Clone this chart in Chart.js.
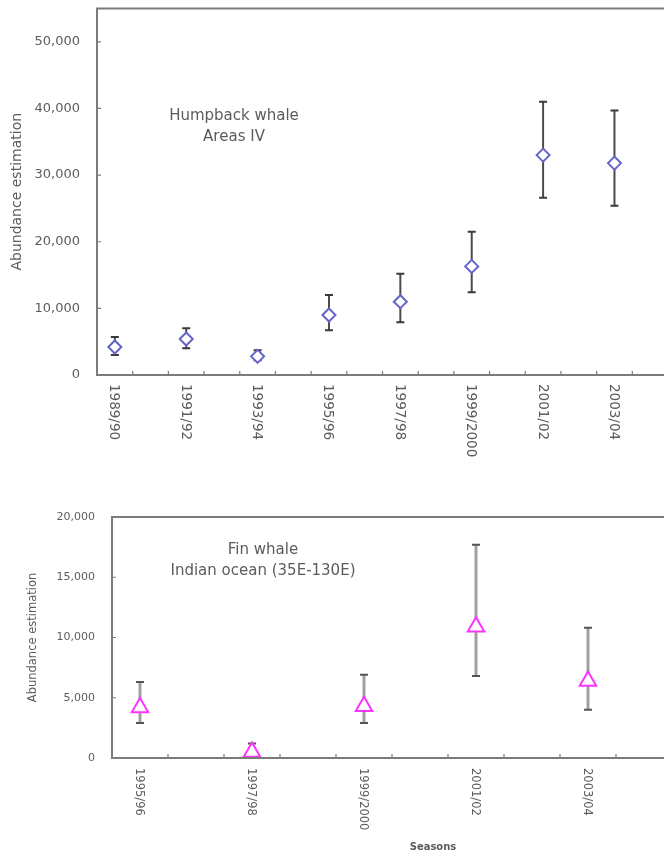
<!DOCTYPE html>
<html lang="en">
<head>
<meta charset="UTF-8">
<title>Whale abundance estimates</title>
<script src="https://cdn.jsdelivr.net/npm/chart.js"></script>
<style>
  html, body { margin: 0; padding: 0; background: #fff; width: 664px; height: 856px; overflow: hidden; }
  canvas { position: absolute; left: 0; }
  #humpChart { top: 0; }
  #finChart { top: 480px; }
</style>
</head>
<body>
<canvas id="humpChart" width="700" height="480"></canvas>
<canvas id="finChart" width="700" height="376"></canvas>
<script>
// Humpback whale, Area IV - one slot per season, surveyed every other season
const humpSeasons = ['1989/90', '1990/91', '1991/92', '1992/93', '1993/94', '1994/95', '1995/96', '1996/97',
                     '1997/98', '1998/99', '1999/2000', '2000/01', '2001/02', '2002/03', '2003/04', '2004/05'];
const humpEstimate = [4200, null, 5400, null, 2800, null, 9000, null, 11000, null, 16300, null, 33000, null, 31800, null];
const humpLower    = [3000, null, 4000, null, 2200, null, 6700, null, 7900, null, 12400, null, 26600, null, 25400, null];
const humpUpper    = [5700, null, 7000, null, 3700, null, 12000, null, 15200, null, 21500, null, 41000, null, 39700, null];
const humpTicks = [0, 10000, 20000, 30000, 40000, 50000];

// Fin whale, Indian ocean (35E-130E)
const finSeasons = ['1995/96', '1996/97', '1997/98', '1998/99', '1999/2000', '2000/01', '2001/02', '2002/03', '2003/04', '2004/05'];
const finEstimate = [4200, null, 500, null, 4300, null, 10900, null, 6400, null];
const finLower    = [2900, null, 200, null, 2900, null, 6800, null, 4000, null];
const finUpper    = [6300, null, 1200, null, 6900, null, 17700, null, 10800, null];
const finTicks = [0, 5000, 10000, 15000, 20000];

const FONT = "'DejaVu Sans', sans-serif";
const TEXT = '#5c5c5c';

// error bars, frame, inward ticks, clockwise season labels and notes
const whalePlot = {
    id: 'whalePlot',
    beforeDatasetsDraw(chart, args, o) {
        const { ctx, scales: { x, y } } = chart;
        ctx.save();
        o.lower.forEach((lo, i) => {
            if (lo == null) return;
            const px = x.getPixelForValue(i);
            const y0 = y.getPixelForValue(lo);
            const y1 = y.getPixelForValue(o.upper[i]);
            ctx.strokeStyle = o.barColor;
            ctx.lineWidth = o.barWidth;
            ctx.beginPath();
            ctx.moveTo(px, y0);
            ctx.lineTo(px, y1);
            ctx.stroke();
            ctx.strokeStyle = o.capColor;
            ctx.lineWidth = 2;
            ctx.beginPath();
            ctx.moveTo(px - o.cap, y0); ctx.lineTo(px + o.cap, y0);
            ctx.moveTo(px - o.cap, y1); ctx.lineTo(px + o.cap, y1);
            ctx.stroke();
        });
        ctx.restore();
    },
    afterDraw(chart, args, o) {
        const { ctx, chartArea: a, scales: { x, y } } = chart;
        const labels = x.getLabels();
        const n = labels.length;
        ctx.save();
        ctx.strokeStyle = '#7c7c7c';
        ctx.lineWidth = 2;
        ctx.strokeRect(a.left, a.top, a.width, a.height);

        ctx.lineWidth = 1.2;
        ctx.beginPath();
        for (let i = 1; i < n; i++) {
            const px = a.left + i * a.width / n;
            ctx.moveTo(px, a.bottom);
            ctx.lineTo(px, a.bottom - 4);
        }
        o.yTicks.forEach(v => {
            const py = y.getPixelForValue(v);
            ctx.moveTo(a.left, py);
            ctx.lineTo(a.left + 4, py);
        });
        ctx.stroke();

        ctx.fillStyle = TEXT;
        ctx.font = o.labelFont;
        ctx.textAlign = 'left';
        ctx.textBaseline = 'middle';
        labels.forEach((s, i) => {
            if (o.estimate[i] == null) return;
            ctx.save();
            ctx.translate(x.getPixelForValue(i) - 1, a.bottom + o.labelGap);
            ctx.rotate(Math.PI / 2);
            ctx.fillText(s, 0, 0);
            ctx.restore();
        });

        ctx.font = o.noteFont;
        ctx.textAlign = 'center';
        o.note.forEach((t, k) => ctx.fillText(t, a.left + o.noteX, a.top + o.noteY + k * 21));

        if (o.xTitle) {
            ctx.font = 'bold 10px ' + FONT;
            ctx.fillText(o.xTitle, a.left + o.xTitleX, a.bottom + o.xTitleY);
        }
        ctx.restore();
    }
};

function makeChart(id, cfg) {
    return new Chart(document.getElementById(id).getContext('2d'), {
        type: 'line',
        data: {
            labels: cfg.seasons,
            datasets: [{
                data: cfg.estimate,
                showLine: false,
                pointStyle: cfg.pointStyle,
                pointRadius: cfg.pointRadius,
                pointBorderWidth: 2,
                pointBorderColor: cfg.pointColor,
                pointBackgroundColor: '#ffffff',
                clip: false
            }]
        },
        options: {
            responsive: false,
            animation: false,
            layout: { padding: cfg.padding },
            plugins: {
                legend: { display: false },
                tooltip: { enabled: false },
                whalePlot: {
                    estimate: cfg.estimate,
                    lower: cfg.lower,
                    upper: cfg.upper,
                    yTicks: cfg.yTicks,
                    barColor: cfg.barColor,
                    barWidth: cfg.barWidth,
                    capColor: cfg.capColor,
                    cap: 4,
                    labelFont: cfg.labelFont,
                    labelGap: cfg.labelGap,
                    note: cfg.note,
                    noteFont: '15px ' + FONT,
                    noteX: cfg.noteX,
                    noteY: cfg.noteY,
                    xTitle: cfg.xTitle,
                    xTitleX: cfg.xTitleX,
                    xTitleY: cfg.xTitleY
                }
            },
            scales: {
                x: {
                    offset: true,
                    grid: { display: false, drawTicks: false },
                    border: { display: false },
                    ticks: { display: false },
                    afterFit: s => { s.height = cfg.xHeight; }
                },
                y: {
                    min: 0,
                    max: cfg.yMax,
                    grid: { display: false, drawTicks: false },
                    border: { display: false },
                    afterBuildTicks: s => { s.ticks = cfg.yTicks.map(v => ({ value: v })); },
                    afterFit: s => { s.width = cfg.yWidth; s.paddingTop = 0; s.paddingBottom = 0; },
                    ticks: {
                        padding: 17,
                        color: TEXT,
                        font: { family: FONT, size: cfg.tickSize },
                        callback: v => v.toLocaleString('en-US')
                    },
                    title: {
                        display: true,
                        text: 'Abundance estimation',
                        color: TEXT,
                        font: { family: FONT, size: cfg.titleSize },
                        padding: { top: cfg.titlePad, bottom: 0 }
                    }
                }
            }
        },
        plugins: [whalePlot]
    });
}

makeChart('humpChart', {
    seasons: humpSeasons, estimate: humpEstimate, lower: humpLower, upper: humpUpper, yTicks: humpTicks,
    yMax: 55000, pointStyle: 'rectRot', pointRadius: 6.5, pointColor: '#6464c8',
    barColor: '#4a4a4a', barWidth: 2, capColor: '#3a3a3a',
    padding: { top: 8, right: 32, bottom: 0, left: 0 }, xHeight: 105, yWidth: 97,
    tickSize: 13, titleSize: 14, titlePad: 8.6,
    labelFont: '13.5px ' + FONT, labelGap: 9,
    note: ['Humpback whale', 'Areas IV'], noteX: 137, noteY: 108
});

makeChart('finChart', {
    seasons: finSeasons, estimate: finEstimate, lower: finLower, upper: finUpper, yTicks: finTicks,
    yMax: 20000, pointStyle: 'triangle', pointRadius: 9.5, pointColor: '#ff33ff',
    barColor: '#a0a0a0', barWidth: 3, capColor: '#555555',
    padding: { top: 37, right: 28, bottom: 0, left: 0 }, xHeight: 98, yWidth: 112,
    tickSize: 11, titleSize: 11.5, titlePad: 26,
    labelFont: '11.5px ' + FONT, labelGap: 10,
    note: ['Fin whale', 'Indian ocean (35E-130E)'], noteX: 151, noteY: 33,
    xTitle: 'Seasons', xTitleX: 321, xTitleY: 89
});
</script>
</body>
</html>
